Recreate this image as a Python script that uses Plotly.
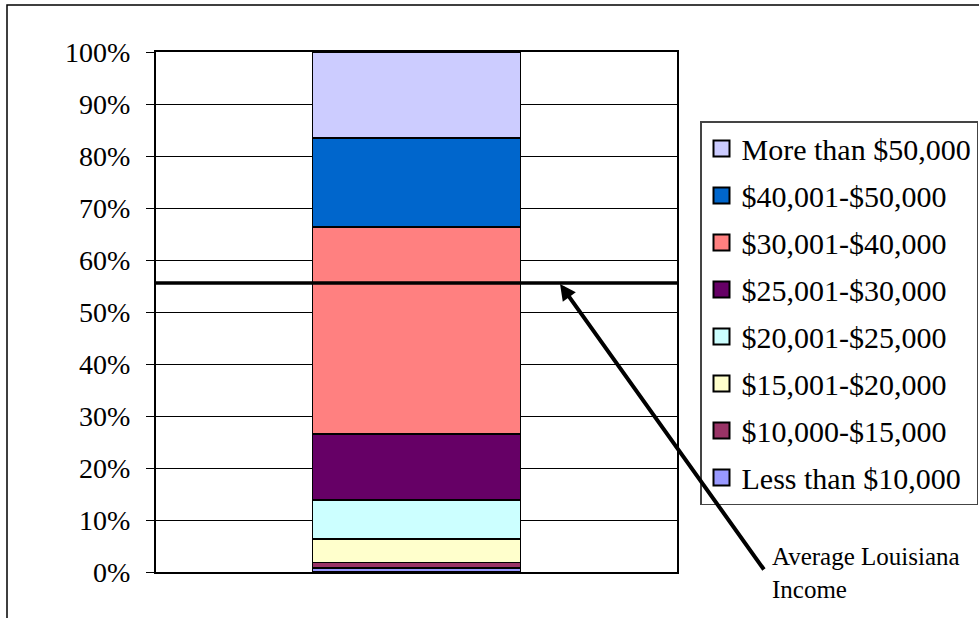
import plotly.graph_objects as go

categories = ["Louisiana"]
series_names = [
    "Less than $10,000",
    "$10,000-$15,000",
    "$15,001-$20,000",
    "$20,001-$25,000",
    "$25,001-$30,000",
    "$30,001-$40,000",
    "$40,001-$50,000",
    "More than $50,000",
]
series_values = [0.8, 1.0, 4.5, 7.5, 12.7, 39.8, 17.2, 16.5]
series_colors = ["#9999FF", "#993366", "#FFFFCC", "#CCFFFF", "#660066",
                 "#FF8080", "#0066CC", "#CCCCFF"]
tick_values = list(range(0, 101, 10))
tick_labels = [f"{v}%" for v in tick_values]
avg_income_pct = 55.6
annotation_text = "Average Louisiana<br>Income"

FONT = "Liberation Serif, Times New Roman, serif"

# plot area in pixels
L, R, T, B = 156, 677, 52, 572
W, H = 979, 618
pw, ph = R - L, B - T


def px(x):
    return (x - L) / pw


def py(y):
    return (B - y) / ph


fig = go.Figure()
n = len(series_names)
for i, (name, val, col) in enumerate(zip(series_names, series_values, series_colors)):
    fig.add_trace(go.Bar(
        x=categories, y=[val], name=name, width=0.4,
        marker=dict(color=col, line=dict(color="black", width=1.5)),
        showlegend=False,
    ))

# legend entries, top item = last series
for i in range(n - 1, -1, -1):
    fig.add_trace(go.Scatter(
        x=[None], y=[None], mode="markers", name=series_names[i],
        legendgroup=series_names[i], legendrank=n - i,
        marker=dict(symbol="square", size=20, color=series_colors[i],
                    line=dict(color="black", width=2)),
        showlegend=True,
    ))

fig.add_shape(type="line", xref="paper", yref="y", x0=0, x1=1,
              y0=avg_income_pct, y1=avg_income_pct,
              line=dict(color="black", width=3.5), layer="above")

# outer chart frame
fig.add_shape(type="rect", xref="paper", yref="paper",
              x0=px(7), x1=px(1000), y0=py(640), y1=py(5),
              line=dict(color="black", width=1.5), layer="above")

fig.add_annotation(xref="paper", yref="paper", x=px(560), y=py(284),
                   ax=765 - 560, ay=571 - 284, text="", showarrow=True,
                   arrowhead=2, arrowsize=0.8, arrowwidth=4, arrowcolor="black")
fig.add_annotation(xref="paper", yref="paper", x=px(770), y=py(573),
                   xanchor="left", yanchor="middle", align="left",
                   text=annotation_text, showarrow=False,
                   font=dict(family=FONT, size=25, color="black"))

fig.update_layout(
    width=W, height=H,
    margin=dict(l=L, r=W - R, t=T, b=H - B, pad=0, autoexpand=False),
    barmode="stack",
    paper_bgcolor="white", plot_bgcolor="white",
    font=dict(family=FONT, size=28, color="black"),
    showlegend=True,
    legend=dict(x=px(700), xanchor="left", y=py(121), yanchor="top",
                traceorder="grouped", tracegroupgap=5,
                bordercolor="#444444", borderwidth=1.5,
                font=dict(family=FONT, size=30, color="black"),
                itemsizing="trace"),
    xaxis=dict(range=[-0.5, 0.5], showticklabels=False, ticks="",
               showgrid=False, showline=True, linecolor="black",
               linewidth=2, mirror=True, zeroline=False),
    yaxis=dict(range=[0, 100], tickvals=tick_values, ticktext=tick_labels,
               ticks="outside", ticklen=8, tickcolor="black", tickwidth=1,
               showgrid=True, gridcolor="black", gridwidth=1,
               showline=True, linecolor="black", linewidth=2, mirror=True,
               zeroline=False, ticklabelstandoff=10,
               tickfont=dict(family=FONT, size=28, color="black")),
)

fig.write_html("out.html", config={"displayModeBar": False},
               post_script="document.body.style.margin='0';")
